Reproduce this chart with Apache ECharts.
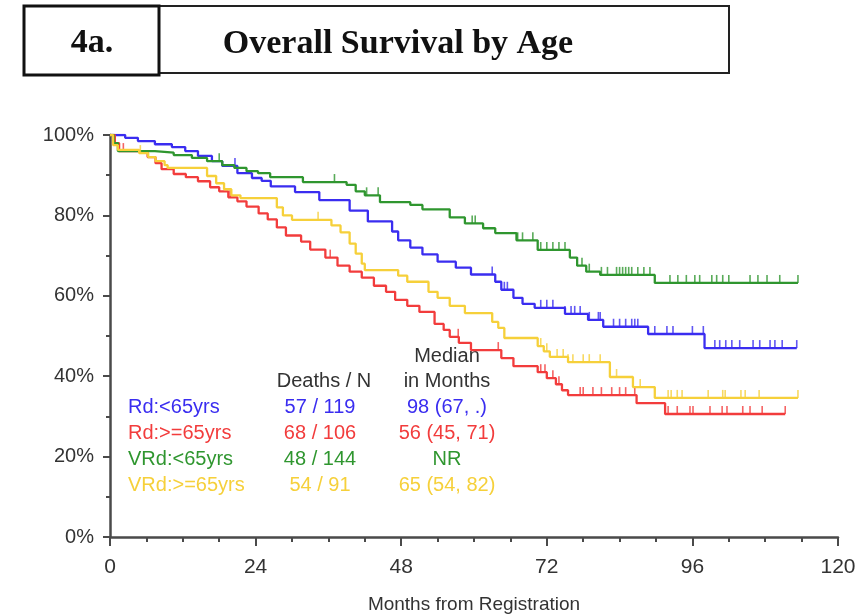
<!DOCTYPE html>
<html>
<head>
<meta charset="utf-8">
<title>Overall Survival by Age</title>
<script src="https://cdn.jsdelivr.net/npm/echarts@6/dist/echarts.min.js"></script>
<style>
  html, body { margin: 0; padding: 0; background: #ffffff; }
  #chart { width: 868px; height: 616px; }
</style>
</head>
<body>
<div id="chart"></div>
<script>
// Kaplan-Meier step estimates: event times (months) and survival (%) after each step
const rdYoungTimes = [0, 2.5, 4.6, 7.4, 10.2, 12.4, 14.5, 16.8, 18.5, 21, 23.4, 25, 26.5, 30.5, 34.5, 39.5, 42.5, 46.5, 47.5, 49.5, 51.5, 54, 57, 59.5, 63.5, 64.5, 66.5, 68, 70, 75, 78.8, 81.3, 88.7, 98, 113.2];
const rdYoungSurv  = [100, 99.3, 98.5, 97.7, 97.0, 96.0, 94.8, 93.5, 92.3, 90.5, 89.3, 88.6, 87.2, 85.8, 83.8, 81.2, 78.5, 76, 73.8, 72, 70.3, 68.5, 67, 65.3, 63.5, 61.5, 59.5, 58, 57, 55.5, 54, 52.3, 50.5, 47, 47];
const rdYoungCens  = [20.6, 63, 65, 65.5, 71, 72, 73, 75, 76, 76.6, 77.5, 79, 80.5, 80.8, 83, 84, 85, 86, 86.5, 87, 89.8, 91.8, 92.8, 96, 97.8, 99.7, 100.5, 101.5, 102.5, 103.8, 106, 107.1, 108.8, 109.6, 110.8, 113.2];

const rdOldTimes = [0, 0.8, 1.5, 6.2, 7.5, 8.5, 10.5, 12.5, 14.5, 16.5, 18, 19.5, 21, 22.5, 24.5, 26, 27.5, 29, 31.5, 33, 35.5, 37.5, 39.5, 41.5, 43.5, 45.5, 47, 49, 51, 53.5, 55, 56, 57.5, 59.5, 64.5, 66.5, 70.5, 72, 73.5, 74.5, 75.5, 86.8, 91.5, 111.3];
const rdOldSurv  = [100, 98, 96, 94.5, 93, 91.5, 90.3, 89.5, 88.5, 87, 86, 84.5, 83.5, 82.2, 80.5, 79, 77, 75, 73.5, 71.5, 69.5, 67.5, 66, 64.5, 62.5, 61, 59, 57.5, 56, 53, 51.5, 49.8, 48.3, 46.5, 44.5, 42.5, 41, 39.5, 38, 36.5, 35.3, 33.3, 30.6, 30.6];
const rdOldCens  = [2.2, 19.8, 36.3, 57.4, 64, 71, 71.7, 73, 74, 77.5, 78, 79.6, 81, 82.7, 84, 85, 86.5, 92, 93.5, 95.6, 96.1, 98.9, 100.9, 101.7, 104.3, 105.5, 107.5, 111.3];

const vrdYoungTimes = [0, 0.6, 1.3, 7.4, 10.5, 13.5, 16, 18.5, 20.5, 22.5, 24.4, 26.4, 31.8, 39, 40.5, 42, 44.5, 49.5, 51.5, 56, 58.5, 61.5, 63.5, 67, 70.5, 75.8, 77, 78.5, 80.8, 89.8, 113.4];
const vrdYoungSurv  = [100, 98, 96, 95.6, 95, 94.3, 93.5, 92.5, 91.8, 91, 90.5, 89.5, 88.3, 87.6, 86, 85, 83.3, 82.6, 81.5, 79.5, 78, 76.8, 75.6, 73.8, 71.4, 69.5, 67.5, 66, 65.2, 63.2, 63.2];
const vrdYoungCens  = [18, 37, 42.3, 44.2, 59.7, 60.2, 67.2, 68, 69.7, 71, 72, 73, 74, 75, 77, 77.8, 79, 81, 82, 83.5, 84, 84.5, 85, 85.5, 86, 87, 88, 89, 92.3, 93.6, 95, 96.4, 97.2, 99.2, 100, 101, 102, 105.5, 106.8, 108.3, 110.4, 113.4];

const vrdOldTimes = [0, 0.5, 1.3, 4.8, 6.3, 7.5, 9.0, 9.5, 16, 17.5, 18.8, 20, 21.5, 27.5, 28.5, 30, 36.5, 38, 39.5, 40.5, 41.5, 42, 47.5, 49, 52.5, 54, 56, 58.5, 63, 64, 65, 70.5, 71.5, 72.5, 75.5, 82.4, 86.2, 89.8, 113.4];
const vrdOldSurv  = [100, 97.5, 96.3, 95.5, 94.5, 93.5, 92.5, 91.8, 89.8, 88, 86.5, 85, 84.3, 82, 80, 78.9, 77.5, 75.8, 73, 70.5, 68, 66.4, 65, 63.5, 61, 59.5, 57.5, 55.7, 53.5, 52, 49.5, 47.5, 46.2, 44.8, 43.5, 39.8, 37.3, 34.6, 34.6];
const vrdOldCens  = [5, 34.3, 71, 72, 73.7, 74.7, 75.5, 76.3, 78, 79, 80.8, 83.5, 87.4, 92, 92.5, 93.5, 94.3, 98.6, 101, 101.4, 104, 104.7, 107, 113.4];

// Summary table rows
const groupNames = ['Rd:<65yrs', 'Rd:>=65yrs', 'VRd:<65yrs', 'VRd:>=65yrs'];
const deathsN    = ['57 / 119', '68 / 106', '48 / 144', '54 / 91'];
const medians    = ['98 (67, .)', '56 (45, 71)', 'NR', '65 (54, 82)'];
const colors     = ['#3a2df0', '#f23c3c', '#2f962f', '#f6d03a'];

// Axis tick values
const xTicks = [0, 24, 48, 72, 96, 120];
const yTicks = [0, 20, 40, 60, 80, 100];

const groups = [
  { t: rdYoungTimes,  s: rdYoungSurv,  c: rdYoungCens },
  { t: rdOldTimes,    s: rdOldSurv,    c: rdOldCens },
  { t: vrdYoungTimes, s: vrdYoungSurv, c: vrdYoungCens },
  { t: vrdOldTimes,   s: vrdOldSurv,   c: vrdOldCens }
];

// survival value of a step curve at time x
function survAt(times, surv, x) {
  let v = surv[0];
  for (let i = 0; i < times.length; i++) {
    if (times[i] <= x) v = surv[i]; else break;
  }
  return v;
}

const series = [];
groups.forEach((g, i) => {
  series.push({
    name: groupNames[i],
    type: 'line',
    step: 'end',
    data: g.t.map((t, k) => [t, g.s[k]]),
    showSymbol: false,
    symbol: 'none',
    lineStyle: { color: colors[i], width: 2.3 },
    z: 3 + i,
    animation: false
  });
  series.push({
    name: groupNames[i] + ' censored',
    type: 'scatter',
    data: g.c.map(t => [t, survAt(g.t, g.s, t)]),
    symbol: 'rect',
    symbolSize: [1.6, 8],
    symbolOffset: [0, -4],
    itemStyle: { color: colors[i] },
    z: 3 + i,
    animation: false
  });
});

const font = '"Liberation Sans", Arial, sans-serif';
const axisColor = '#4a4a4a';
const labelColor = '#333333';

// Summary table: header and one row per group
const tableText = [];
const headStyle = { fill: '#333333', font: '20px ' + font, textAlign: 'center', textVerticalAlign: 'middle' };
tableText.push({ type: 'text', x: 447, y: 356, style: Object.assign({ text: 'Median' }, headStyle) });
tableText.push({ type: 'text', x: 447, y: 381, style: Object.assign({ text: 'in Months' }, headStyle) });
tableText.push({ type: 'text', x: 324, y: 381, style: Object.assign({ text: 'Deaths / N' }, headStyle) });
groupNames.forEach((n, i) => {
  const y = 407 + i * 26;
  tableText.push({ type: 'text', x: 128, y: y, style: { text: n, fill: colors[i], font: '20px ' + font, textAlign: 'left', textVerticalAlign: 'middle' } });
  tableText.push({ type: 'text', x: 320, y: y, style: { text: deathsN[i], fill: colors[i], font: '20px ' + font, textAlign: 'center', textVerticalAlign: 'middle' } });
  tableText.push({ type: 'text', x: 447, y: y, style: { text: medians[i], fill: colors[i], font: '20px ' + font, textAlign: 'center', textVerticalAlign: 'middle' } });
});

// Boxed figure heading
const titleFont = 'bold 34px "Liberation Serif", "Times New Roman", serif';
const titleGraphics = [
  { type: 'rect', shape: { x: 159, y: 6, width: 570, height: 67 }, style: { fill: '#ffffff', stroke: '#222222', lineWidth: 2 } },
  { type: 'rect', shape: { x: 24, y: 6, width: 135, height: 69 }, style: { fill: '#ffffff', stroke: '#111111', lineWidth: 3 } },
  { type: 'text', x: 92, y: 43, style: { text: '4a.', fill: '#111111', font: titleFont, textAlign: 'center', textVerticalAlign: 'middle' } },
  { type: 'text', x: 398, y: 44, style: { text: 'Overall Survival by Age', fill: '#111111', font: titleFont, textAlign: 'center', textVerticalAlign: 'middle' } }
];

const chart = echarts.init(document.getElementById('chart'), null, { renderer: 'canvas' });
chart.setOption({
  backgroundColor: '#ffffff',
  animation: false,
  grid: { left: 110, right: 30, top: 135, bottom: 79, containLabel: false, outerBoundsMode: 'none' },
  xAxis: {
    type: 'value',
    min: xTicks[0],
    max: xTicks[xTicks.length - 1],
    interval: 24,
    name: 'Months from Registration',
    nameLocation: 'middle',
    nameGap: 58,
    nameTextStyle: { color: labelColor, fontSize: 19, fontFamily: font },
    axisLine: { show: true, onZero: false, lineStyle: { color: axisColor, width: 2.5 } },
    axisTick: { show: true, inside: false, length: 9, lineStyle: { color: axisColor, width: 2 } },
    minorTick: { show: true, splitNumber: 4, length: 5, lineStyle: { color: axisColor, width: 2 } },
    axisLabel: { color: labelColor, fontSize: 21, fontFamily: font, margin: 20 },
    splitLine: { show: false }
  },
  yAxis: {
    type: 'value',
    min: yTicks[0],
    max: yTicks[yTicks.length - 1],
    interval: 20,
    axisLine: { show: true, lineStyle: { color: axisColor, width: 2.5 } },
    axisTick: { show: true, inside: false, length: 7, lineStyle: { color: axisColor, width: 2 } },
    minorTick: { show: true, splitNumber: 2, length: 4, lineStyle: { color: axisColor, width: 2 } },
    axisLabel: { color: labelColor, fontSize: 20, fontFamily: font, margin: 16, formatter: v => v + '%' },
    splitLine: { show: false }
  },
  graphic: titleGraphics.concat(tableText),
  series: series
});
</script>
</body>
</html>
